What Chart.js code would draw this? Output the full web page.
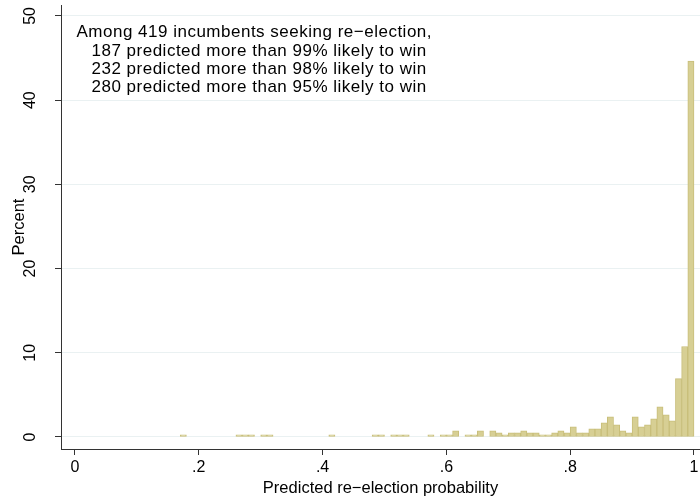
<!DOCTYPE html>
<html>
<head>
<meta charset="utf-8">
<title>Predicted re-election probability</title>
<script src="https://cdn.jsdelivr.net/npm/chart.js@4/dist/chart.umd.min.js"></script>
<style>
  html, body { margin: 0; padding: 0; background: #ffffff; }
  #wrap { width: 700px; height: 503px; }
</style>
</head>
<body>
<div id="wrap"><canvas id="hist" width="700" height="503"></canvas></div>
<script>
// Histogram of predicted re-election probability, bins of width 0.01
const totalIncumbents = 419;
const binWidth = 0.01;
const binStarts = Array.from({ length: 100 }, (_, i) => i / 100);
const binCounts = [
  0, 0, 0, 0, 0, 0, 0, 0, 0, 0,
  0, 0, 0, 0, 0, 0, 0, 1, 0, 0,
  0, 0, 0, 0, 0, 0, 1, 1, 1, 0,
  1, 1, 0, 0, 0, 0, 0, 0, 0, 0,
  0, 1, 0, 0, 0, 0, 0, 0, 1, 1,
  0, 1, 1, 1, 0, 0, 0, 1, 0, 1,
  1, 3, 0, 1, 1, 3, 0, 3, 2, 1,
  2, 2, 3, 2, 2, 1, 1, 2, 3, 2,
  5, 2, 2, 4, 4, 7, 10, 6, 3, 2,
  10, 5, 6, 9, 15, 11, 8, 29, 45, 187
];
const xTickValues = [0, 0.2, 0.4, 0.6, 0.8, 1];
const yTickValues = [0, 10, 20, 30, 40, 50];
const noteLines = [
  'Among 419 incumbents seeking re\u2212election,',
  '187 predicted more than 99% likely to win',
  '232 predicted more than 98% likely to win',
  '280 predicted more than 95% likely to win'
];
const xTitle = 'Predicted re\u2212election probability';
const yTitle = 'Percent';

const FONT = "'Liberation Sans', Arial, Helvetica, sans-serif";
const AXIS_COLOR = '#333333';
const GRID_COLOR = '#eaf1f2';

// Percent of incumbents per bin, placed at bin centres
const points = binStarts.map((s, i) => ({
  x: s + binWidth / 2,
  y: binCounts[i] * 100 / totalIncumbents
}));

const notePlugin = {
  id: 'note',
  afterDatasetsDraw(chart) {
    const { ctx, chartArea } = chart;
    ctx.save();
    ctx.font = '17px ' + FONT;
    ctx.letterSpacing = '0.5px';
    ctx.fillStyle = '#000000';
    ctx.textAlign = 'left';
    ctx.textBaseline = 'alphabetic';
    noteLines.forEach((line, i) => {
      const x = chartArea.left + (i === 0 ? 15.5 : 30.5);
      const y = chartArea.top + 32.3 + i * 18.35;
      ctx.fillText(line, x, y);
    });
    ctx.restore();
  }
};

function fmtX(v) {
  if (v === 0) return '0';
  if (v === 1) return '1';
  return String(v).replace(/^0\./, '.');
}

new Chart(document.getElementById('hist'), {
  type: 'bar',
  data: {
    datasets: [{
      data: points,
      backgroundColor: 'rgb(215, 207, 148)',
      borderColor: 'rgb(200, 190, 122)',
      borderWidth: 1,
      borderSkipped: false,
      categoryPercentage: 1.0,
      barPercentage: 1.0
    }]
  },
  options: {
    responsive: false,
    animation: false,
    devicePixelRatio: 1,
    layout: { padding: { top: 5, right: 0, bottom: 0, left: 0 } },
    plugins: {
      legend: { display: false },
      tooltip: { enabled: false }
    },
    scales: {
      x: {
        type: 'linear',
        offset: false,
        min: -0.0226,
        max: 1.0097,
        afterBuildTicks(scale) { scale.ticks = xTickValues.map(v => ({ value: v })); },
        afterFit(scale) {
          scale.height = 54;
          scale.paddingLeft = 0;
          scale.paddingRight = 0;
        },
        ticks: {
          autoSkip: false,
          maxRotation: 0,
          minRotation: 0,
          padding: 3,
          color: '#000000',
          font: { family: FONT, size: 16 },
          callback: (v) => fmtX(v)
        },
        grid: {
          offset: false,
          drawOnChartArea: false,
          drawTicks: true,
          tickLength: 6,
          tickColor: AXIS_COLOR,
          tickWidth: 1
        },
        border: { display: true, color: AXIS_COLOR, width: 1 },
        title: {
          display: true,
          text: xTitle,
          color: '#000000',
          font: { family: FONT, size: 16.5 },
          padding: { top: 0, bottom: 5 }
        }
      },
      y: {
        type: 'linear',
        min: -1.43,
        max: 51.3,
        afterBuildTicks(scale) { scale.ticks = yTickValues.map(v => ({ value: v })); },
        afterFit(scale) {
          scale.width = 61;
          scale.paddingTop = 0;
          scale.paddingBottom = 0;
        },
        ticks: {
          autoSkip: false,
          minRotation: 90,
          maxRotation: 90,
          crossAlign: 'center',
          padding: 16,
          color: '#000000',
          font: { family: FONT, size: 16 }
        },
        grid: {
          color: GRID_COLOR,
          lineWidth: 1,
          drawTicks: true,
          tickLength: 6,
          tickColor: AXIS_COLOR,
          tickWidth: 1
        },
        border: { display: true, color: AXIS_COLOR, width: 1 },
        title: {
          display: true,
          text: yTitle,
          color: '#000000',
          font: { family: FONT, size: 16.5 },
          padding: { top: 10, bottom: 0 }
        }
      }
    }
  },
  plugins: [notePlugin]
});
</script>
</body>
</html>
